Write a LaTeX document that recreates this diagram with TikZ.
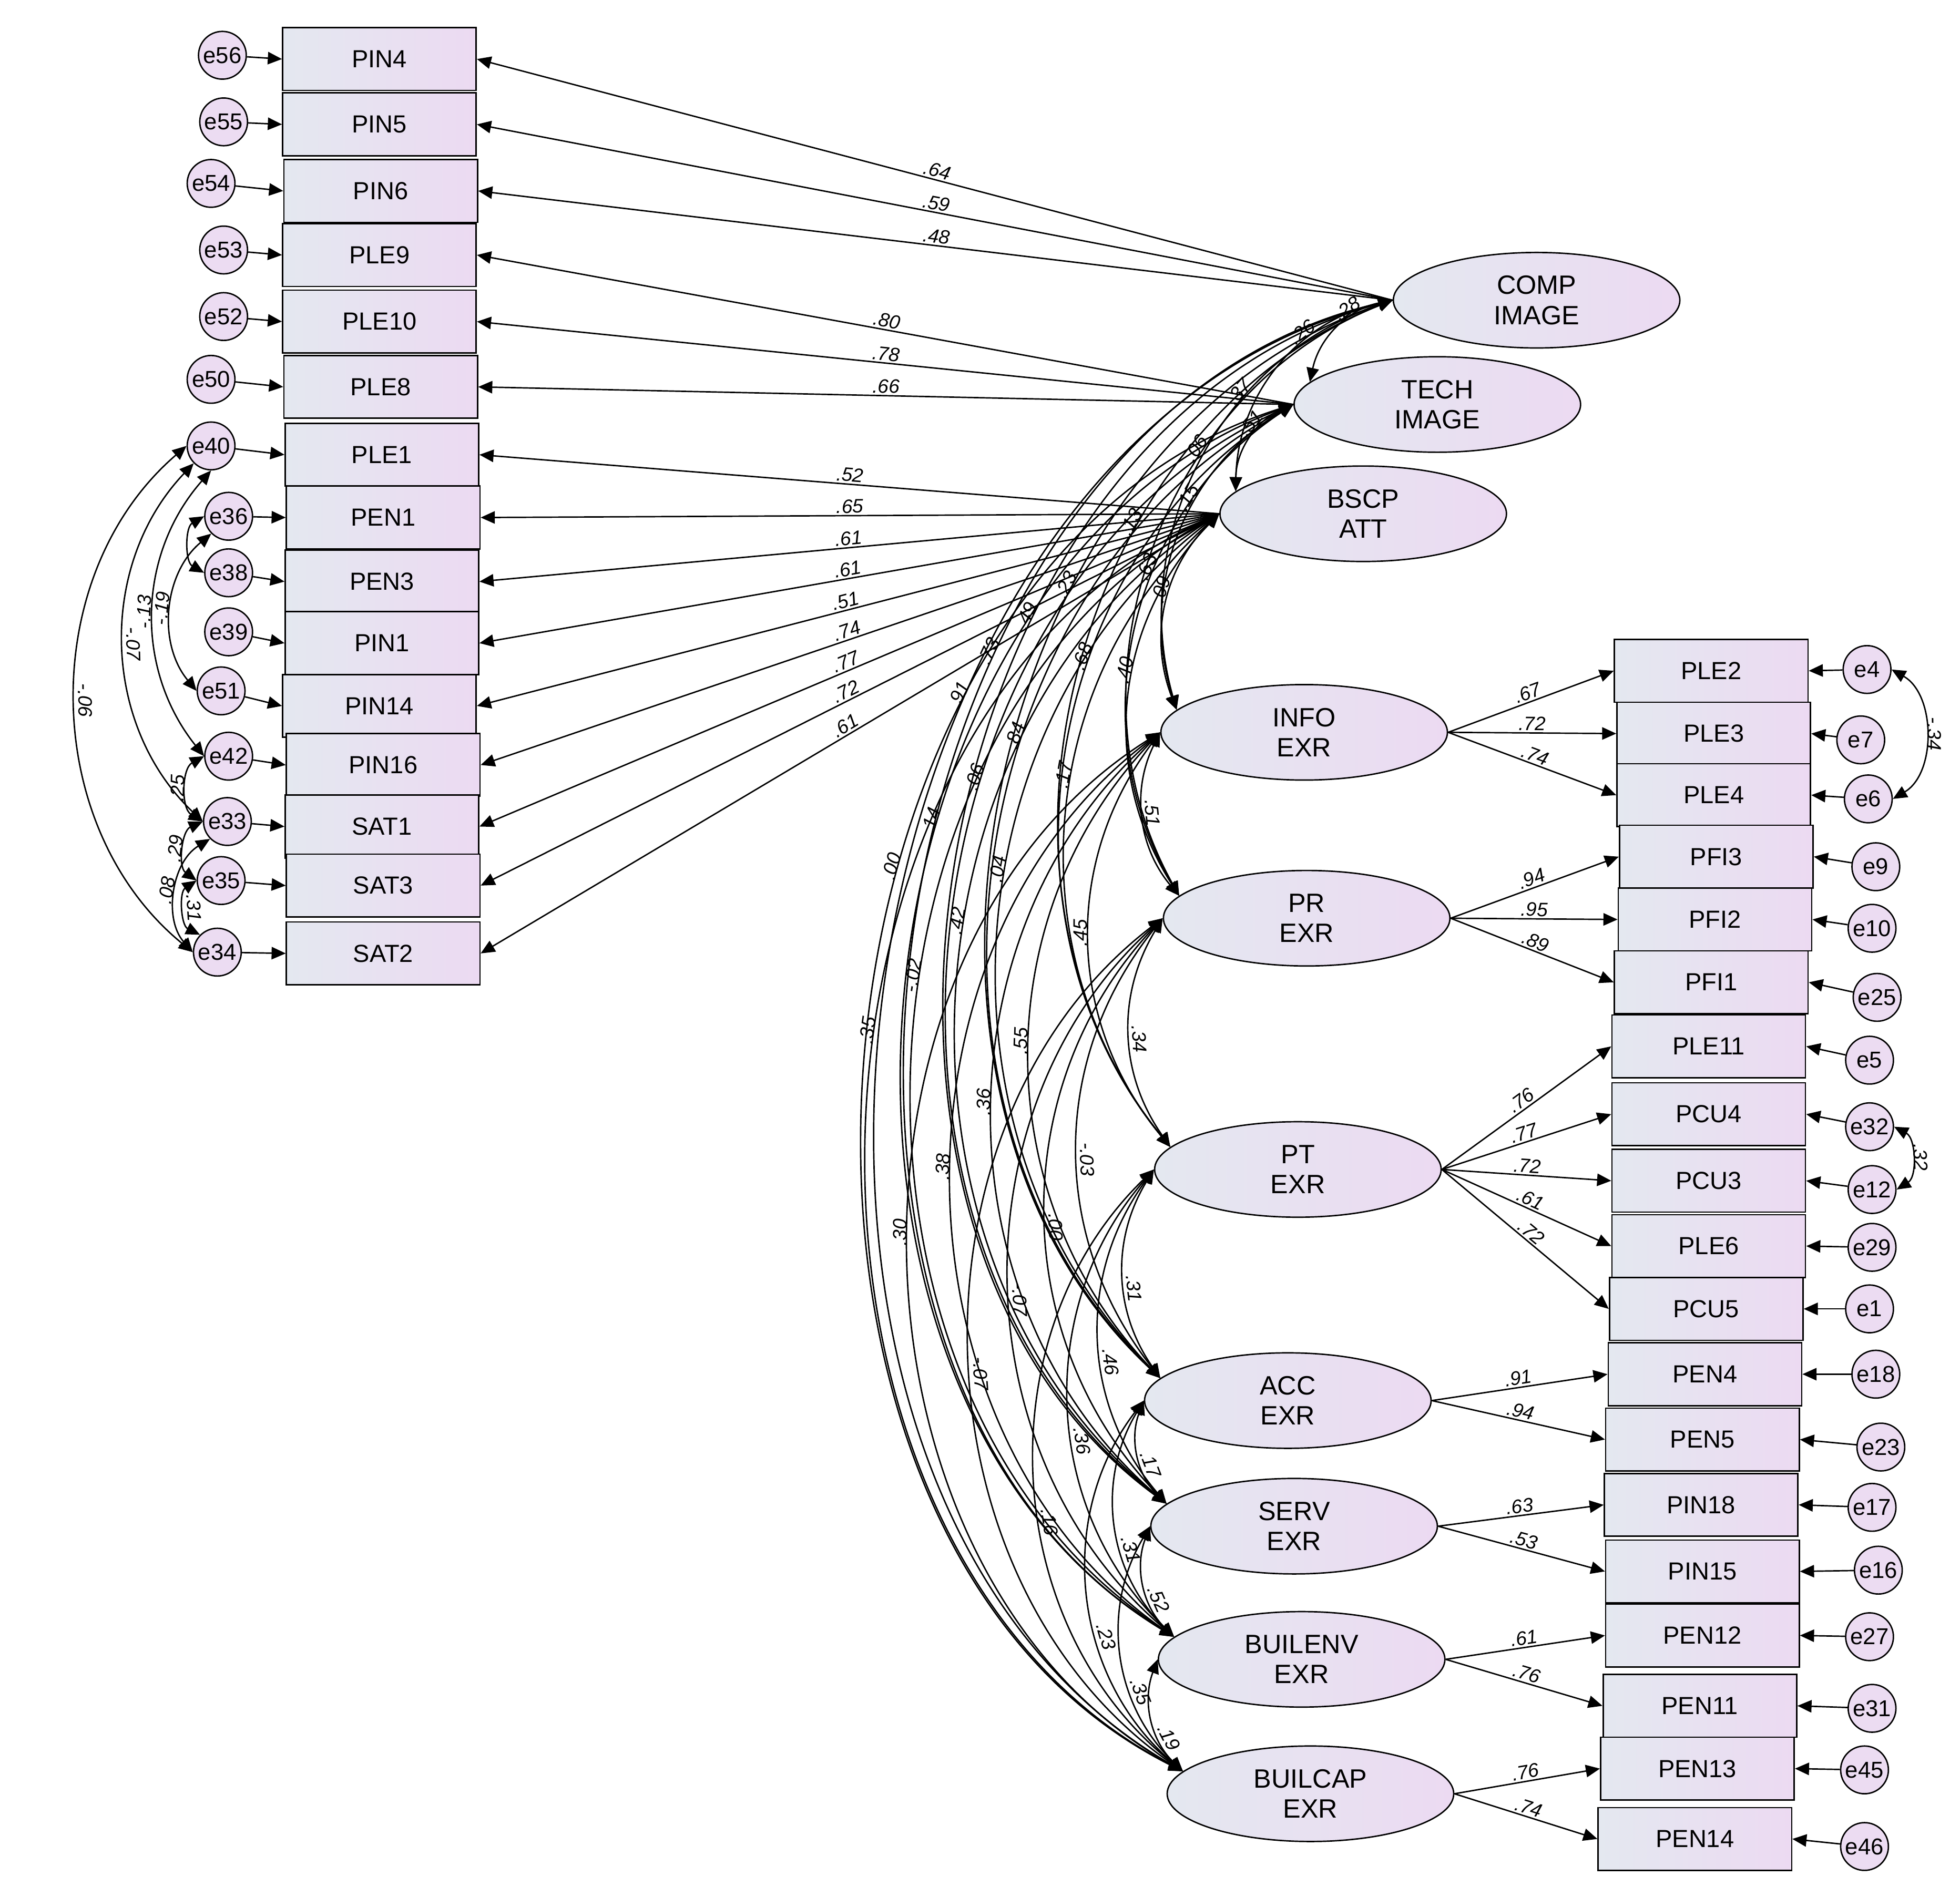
\documentclass[tikz,border=0pt]{standalone}
\usepackage{fontspec}
\setmainfont{Liberation Sans}
\usetikzlibrary{arrows.meta,shapes.geometric}
\begin{document}
\begin{tikzpicture}[x=0.025cm,y=-0.025cm,
 box/.style={draw,thick,rectangle,minimum width=3.85cm,minimum height=1.25cm,inner sep=0,left color={rgb,255:red,228;green,232;blue,240},right color={rgb,255:red,236;green,218;blue,242},font=\fontsize{14}{14}\selectfont},
 lat/.style={draw,thick,ellipse,minimum width=5.7cm,minimum height=1.9cm,inner sep=0,left color={rgb,255:red,228;green,232;blue,240},right color={rgb,255:red,236;green,218;blue,242},align=center,font=\fontsize{15}{17}\selectfont},
 err/.style={draw,thick,circle,minimum size=0.95cm,inner sep=0,fill={rgb,255:red,236;green,220;blue,242},font=\fontsize{13}{13}\selectfont},
 ar/.style={-{Triangle[length=8pt,width=7pt]},thick},
 cov/.style={{Triangle[length=8pt,width=7pt]}-{Triangle[length=8pt,width=7pt]},thick},
 lbl/.style={font=\itshape\fontsize{11}{11}\selectfont,inner sep=1pt}]
\useasboundingbox (0,0) rectangle (1560,1502);
% left boxes
\foreach \n/\x/\y in {PIN4/302/47,PIN5/302/99,PIN6/303/152,PLE9/302/203,PLE10/302/256,PLE8/303/308,PLE1/304/362,PEN1/305/412,PEN3/304/463,PIN1/304/512,PIN14/302/562,PIN16/305/609,SAT1/304/658,SAT3/305/705,SAT2/305/759}
  \node[box] (\n) at (\x,\y) {\n};
\foreach \e/\x/\y/\b in {e56/177/44/PIN4,e55/178/97/PIN5,e54/168/146/PIN6,e53/178/199/PLE9,e52/178/252/PLE10,e50/168/302/PLE8,e40/168/355/PLE1,e36/182/411/PEN1,e38/182/456/PEN3,e39/182/503/PIN1,e51/176/550/PIN14,e42/182/602/PIN16,e33/181/654/SAT1,e35/176/701/SAT3,e34/173/758/SAT2}
  {\node[err] (\e) at (\x,\y) {\e}; \draw[ar] (\e) -- (\b.west);}
% right boxes
\foreach \n/\x/\y in {PLE2/1362/534,PLE3/1364/584,PLE4/1364/633,PFI3/1366/682,PFI2/1365/732,PFI1/1362/782,PLE11/1360/833,PCU4/1360/887,PCU3/1360/940,PLE6/1360/992,PCU5/1358/1042,PEN4/1357/1094,PEN5/1355/1146,PIN18/1354/1198,PIN15/1355/1251,PEN12/1355/1302,PEN11/1353/1358,PEN13/1351/1408,PEN14/1349/1464}
  \node[box] (\n) at (\x,\y) {\n};
\foreach \e/\x/\y/\b in {e4/1486/533/PLE2,e7/1481/589/PLE3,e6/1487/636/PLE4,e9/1493/690/PFI3,e10/1490/739/PFI2,e25/1494/794/PFI1,e5/1488/844/PLE11,e32/1488/897/PCU4,e12/1490/947/PCU3,e29/1490/993/PLE6,e1/1488/1042/PCU5,e18/1493/1094/PEN4,e23/1497/1152/PEN5,e17/1490/1200/PIN18,e16/1495/1250/PIN15,e27/1488/1303/PEN12,e31/1490/1360/PEN11,e45/1484/1409/PEN13,e46/1484/1470/PEN14}
  {\node[err] (\e) at (\x,\y) {\e}; \draw[ar] (\e) -- (\b.east);}
% latents
\node[lat] (l1) at (1223,239) {COMP\\IMAGE};
\node[lat] (l2) at (1144,322) {TECH\\IMAGE};
\node[lat] (l3) at (1085,409) {BSCP\\ATT};
\node[lat] (l4) at (1038,583) {INFO\\EXR};
\node[lat] (l5) at (1040,731) {PR\\EXR};
\node[lat] (l6) at (1033,931) {PT\\EXR};
\node[lat] (l7) at (1025,1115) {ACC\\EXR};
\node[lat] (l8) at (1030,1215) {SERV\\EXR};
\node[lat] (l9) at (1036,1321) {BUILENV\\EXR};
\node[lat] (l10) at (1043,1428) {BUILCAP\\EXR};
% left loadings
\foreach \l/\b/\v in {l1/PIN4/.64,l1/PIN5/.59,l1/PIN6/.48,l2/PLE9/.80,l2/PLE10/.78,l2/PLE8/.66,l3/PLE1/.52,l3/PEN1/.65,l3/PEN3/.61,l3/PIN1/.61,l3/PIN14/.51,l3/PIN16/.74,l3/SAT1/.77,l3/SAT3/.72,l3/SAT2/.61}
  \draw[ar] (\l.west) -- node[lbl,above,sloped,pos=0.5]{\v} (\b.east);
% right loadings
\foreach \l/\b/\v in {l4/PLE2/.67,l4/PLE3/.72,l4/PLE4/.74,l5/PFI3/.94,l5/PFI2/.95,l5/PFI1/.89,l6/PLE11/.76,l6/PCU4/.77,l6/PCU3/.72,l6/PLE6/.61,l6/PCU5/.72,l7/PEN4/.91,l7/PEN5/.94,l8/PIN18/.63,l8/PIN15/.53,l9/PEN12/.61,l9/PEN11/.76,l10/PEN13/.76,l10/PEN14/.74}
  \draw[ar] (\l.east) -- node[lbl,above,sloped,pos=0.5]{\v} (\b.west);
% latent covariances
\foreach \a/\b/\v in {1/2/.28,1/3/.26,1/4/.37,1/5/.06,1/6/.13,1/7/.23,1/8/.49,1/9/.73,1/10/.91,
 2/3/.51,2/4/.15,2/5/.63,2/6/.68,2/7/.84,2/8/.06,2/9/.14,2/10/.00,
 3/4/.09,3/5/.40,3/6/.17,3/7/.04,3/8/.42,3/9/-.02,3/10/.35,
 4/5/.51,4/6/.45,4/7/.55,4/8/.36,4/9/.38,4/10/.30,
 5/6/.34,5/7/-.03,5/8/.00,5/9/-.07,5/10/-.07,
 6/7/.31,6/8/.46,6/9/.36,6/10/.16,
 7/8/.17,7/9/.31,7/10/.23,
 8/9/.52,8/10/.35,
 9/10/.19}
 {\pgfmathsetmacro\ang{min(68,28+5.2*(\b-\a))}
  \pgfmathsetmacro\p{0.3+0.045*\a}
  \draw[cov] (l\a.west) to[bend right=\ang] node[lbl,pos=\p,sloped,above]{\v} (l\b.170);}
% error covariances left
\draw[cov] (e40.west) to[bend right=50] node[lbl,sloped,above,pos=0.5]{-.06} (e34.west);
\draw[cov] (e40.south west) to[bend right=45] node[lbl,sloped,above,pos=0.5]{-.07} (e33.west);
\draw[cov] (e40.south) to[bend right=40] node[lbl,sloped,above,pos=0.5]{-.13} (e42.west);
\draw[cov] (e36.west) to[bend right=60] (e38.west);
\draw[cov] (e36.south west) to[bend right=45] node[lbl,sloped,above,pos=0.5]{-.19} (e51.west);
\draw[cov] (e42.west) to[bend right=60] node[lbl,sloped,above,pos=0.5]{.25} (e33.west);
\draw[cov] (e33.west) to[bend right=60] node[lbl,sloped,above,pos=0.5]{.29} (e35.west);
\draw[cov] (e33.south west) to[bend right=50] node[lbl,sloped,above,pos=0.5]{.08} (e34.west);
\draw[cov] (e35.west) to[bend right=60] node[lbl,sloped,above,pos=0.5]{.31} (e34.north west);
% error covariances right
\draw[cov] (e4.east) to[bend left=60] node[lbl,sloped,above,pos=0.5]{-.34} (e6.east);
\draw[cov] (e32.east) to[bend left=60] node[lbl,sloped,above,pos=0.5]{.32} (e12.east);
\end{tikzpicture}
\end{document}
